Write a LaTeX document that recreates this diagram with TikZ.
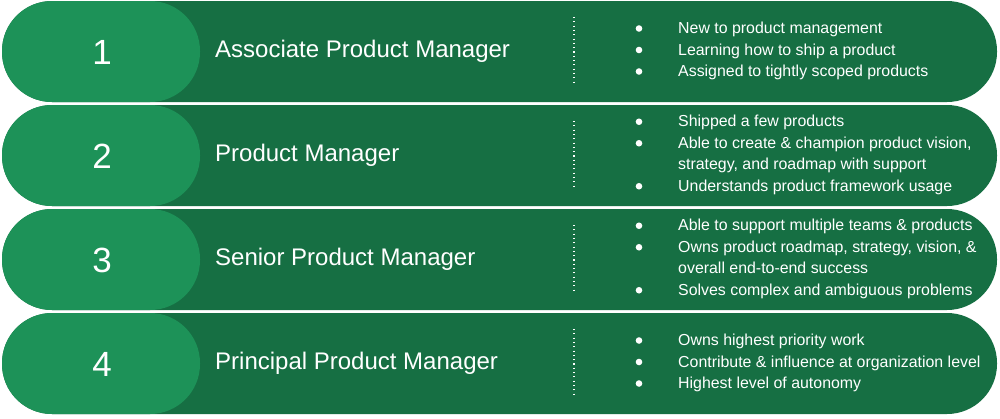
\documentclass[tikz,border=0pt]{standalone}
\usepackage{fontspec}
\setmainfont{Liberation Sans}
\usetikzlibrary{positioning}
\definecolor{pmdark}{RGB}{22,111,67}
\definecolor{pmlight}{RGB}{29,146,88}
\tikzset{
  outerpill/.style={fill=pmdark, rounded corners=50pt},
  innerpill/.style={fill=pmlight, rounded corners=50pt},
  levelnum/.style={text=white, anchor=base, inner sep=0pt, font=\fontsize{35}{40}\selectfont},
  roletitle/.style={text=white, anchor=base west, inner sep=0pt, font=\fontsize{24}{28}\selectfont},
  roleitem/.style={text=white, anchor=base west, inner sep=0pt, font=\fontsize{15.9}{21.5}\selectfont},
  itemdot/.style={fill=white},
  sepdots/.style={white, line width=1.1pt, dash pattern=on 1.1pt off 3.2pt}
}
\begin{document}
\begin{tikzpicture}[x=1pt, y=-1pt]
\useasboundingbox[fill=white] (0,0) rectangle (1000,418);
% level 1
\fill[outerpill] (2,1) rectangle (997,102);
\fill[innerpill] (2,1) rectangle (200,102);
\node[levelnum] (num1) at (102,64.5) {1};
\node[roletitle] (title1) at (215,57) {Associate Product Manager};
\draw[sepdots] (574,17) -- (574,82);
\fill[itemdot] (639,28.5) circle[radius=3.3];
\node[roleitem] (item1a) at (678,33.5) {New to product management};
\fill[itemdot] (639,50) circle[radius=3.3];
\node[roleitem] (item1b) at (678,55) {Learning how to ship a product};
\fill[itemdot] (639,71.5) circle[radius=3.3];
\node[roleitem] (item1c) at (678,76.5) {Assigned to tightly scoped products};
% level 2
\fill[outerpill] (2,105) rectangle (997,206);
\fill[innerpill] (2,105) rectangle (200,206);
\node[levelnum] (num2) at (102,168.5) {2};
\node[roletitle] (title2) at (215,161) {Product Manager};
\draw[sepdots] (574,121) -- (574,186);
\fill[itemdot] (639,121.75) circle[radius=3.3];
\node[roleitem] (item2a) at (678,126.75) {Shipped a few products};
\fill[itemdot] (639,143.25) circle[radius=3.3];
\node[roleitem] (item2b) at (678,148.25) {Able to create \& champion product vision,};
\node[roleitem] (item2c) at (678,169.75) {strategy, and roadmap with support};
\fill[itemdot] (639,186.25) circle[radius=3.3];
\node[roleitem] (item2d) at (678,191.25) {Understands product framework usage};
% level 3
\fill[outerpill] (2,209) rectangle (997,310);
\fill[innerpill] (2,209) rectangle (200,310);
\node[levelnum] (num3) at (102,272.5) {3};
\node[roletitle] (title3) at (215,265) {Senior Product Manager};
\draw[sepdots] (574,225) -- (574,290);
\fill[itemdot] (639,225.75) circle[radius=3.3];
\node[roleitem] (item3a) at (678,230.75) {Able to support multiple teams \& products};
\fill[itemdot] (639,247.25) circle[radius=3.3];
\node[roleitem] (item3b) at (678,252.25) {Owns product roadmap, strategy, vision, \&};
\node[roleitem] (item3c) at (678,273.75) {overall end-to-end success};
\fill[itemdot] (639,290.25) circle[radius=3.3];
\node[roleitem] (item3d) at (678,295.25) {Solves complex and ambiguous problems};
% level 4
\fill[outerpill] (2,313) rectangle (997,414);
\fill[innerpill] (2,313) rectangle (200,414);
\node[levelnum] (num4) at (102,376.5) {4};
\node[roletitle] (title4) at (215,369) {Principal Product Manager};
\draw[sepdots] (574,329) -- (574,394);
\fill[itemdot] (639,340.5) circle[radius=3.3];
\node[roleitem] (item4a) at (678,345.5) {Owns highest priority work};
\fill[itemdot] (639,362) circle[radius=3.3];
\node[roleitem] (item4b) at (678,367) {Contribute \& influence at organization level};
\fill[itemdot] (639,383.5) circle[radius=3.3];
\node[roleitem] (item4c) at (678,388.5) {Highest level of autonomy};
\end{tikzpicture}
\end{document}
